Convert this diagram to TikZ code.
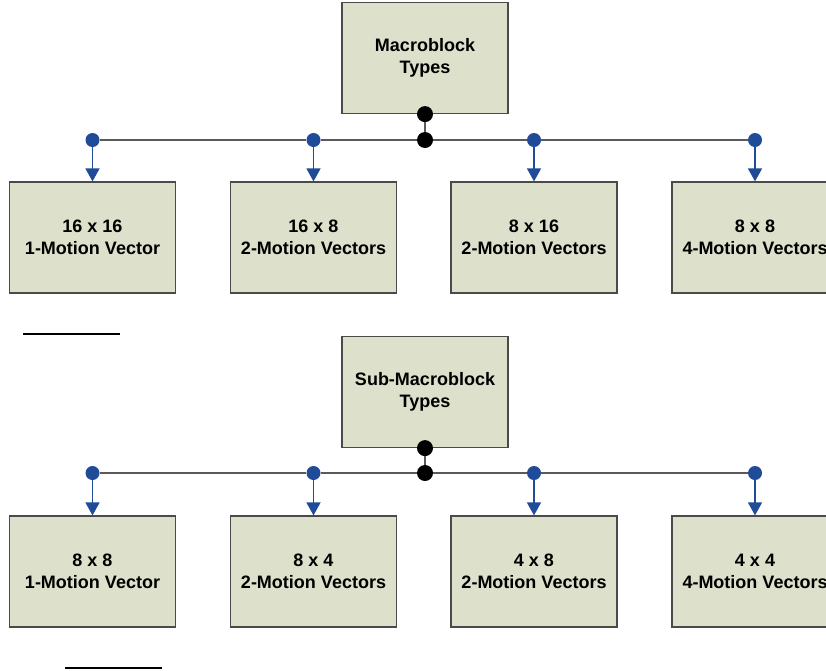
\documentclass[tikz,border=0pt]{standalone}
\usepackage{fontspec}
\setmainfont{Liberation Sans}
\usetikzlibrary{arrows.meta}
\definecolor{boxfill}{HTML}{DDE0CB}
\definecolor{boxline}{HTML}{4A4A48}
\definecolor{dotblue}{HTML}{1F4B98}
\definecolor{busgrey}{HTML}{5A5A5A}
\begin{document}
\begin{tikzpicture}[x=1pt, y=-1pt,
  typebox/.style={draw=boxline, fill=boxfill, line width=1.2pt, minimum width=166pt, minimum height=111pt, inner sep=0pt, align=center, font=\bfseries\fontsize{18}{22}\selectfont},
  bluedot/.style={circle, fill=dotblue, inner sep=0pt, minimum size=14pt},
  blackdot/.style={circle, fill=black, inner sep=0pt, minimum size=16pt},
  bus/.style={busgrey, line width=1.5pt},
  drop/.style={dotblue, line width=1.5pt, -{Triangle[width=14pt,length=13pt]}}]
\useasboundingbox (0,0) rectangle (826,670);

% macroblock types
\node[typebox] (mb) at (425,58) {Macroblock\\Types};
\node[typebox] (mb1) at (92.5,237.5) {16 x 16\\1-Motion Vector};
\node[typebox] (mb2) at (313.5,237.5) {16 x 8\\2-Motion Vectors};
\node[typebox] (mb3) at (534,237.5) {8 x 16\\2-Motion Vectors};
\node[typebox] (mb4) at (755,237.5) {8 x 8\\4-Motion Vectors};
\node[blackdot] (mbk) at (mb.south) {};
\node[blackdot] (mbj) at (mb.south |- 0,140) {};
\node[bluedot] (mbd1) at (mb1.north |- mbj) {};
\node[bluedot] (mbd2) at (mb2.north |- mbj) {};
\node[bluedot] (mbd3) at (mb3.north |- mbj) {};
\node[bluedot] (mbd4) at (mb4.north |- mbj) {};
\draw [bus] (mbk) -- (mbj);
\draw [bus] (mbd1) -- (mbd2);
\draw [bus] (mbd2) -- (mbj);
\draw [bus] (mbj) -- (mbd3);
\draw [bus] (mbd3) -- (mbd4);
\draw [drop] (mbd1) -- (mb1.north);
\draw [drop] (mbd2) -- (mb2.north);
\draw [drop] (mbd3) -- (mb3.north);
\draw [drop] (mbd4) -- (mb4.north);
\draw [line width=1.2pt] (23,334) -- (120,334);

% sub-macroblock types
\node[typebox] (smb) at (425,392) {Sub-Macroblock\\Types};
\node[typebox] (smb1) at (92.5,571.5) {8 x 8\\1-Motion Vector};
\node[typebox] (smb2) at (313.5,571.5) {8 x 4\\2-Motion Vectors};
\node[typebox] (smb3) at (534,571.5) {4 x 8\\2-Motion Vectors};
\node[typebox] (smb4) at (755,571.5) {4 x 4\\4-Motion Vectors};
\node[blackdot] (smbk) at (smb.south) {};
\node[blackdot] (smbj) at (smb.south |- 0,473) {};
\node[bluedot] (smbd1) at (smb1.north |- smbj) {};
\node[bluedot] (smbd2) at (smb2.north |- smbj) {};
\node[bluedot] (smbd3) at (smb3.north |- smbj) {};
\node[bluedot] (smbd4) at (smb4.north |- smbj) {};
\draw [bus] (smbk) -- (smbj);
\draw [bus] (smbd1) -- (smbd2);
\draw [bus] (smbd2) -- (smbj);
\draw [bus] (smbj) -- (smbd3);
\draw [bus] (smbd3) -- (smbd4);
\draw [drop] (smbd1) -- (smb1.north);
\draw [drop] (smbd2) -- (smb2.north);
\draw [drop] (smbd3) -- (smb3.north);
\draw [drop] (smbd4) -- (smb4.north);
\draw [line width=1.2pt] (65,668) -- (162,668);
\end{tikzpicture}
\end{document}
